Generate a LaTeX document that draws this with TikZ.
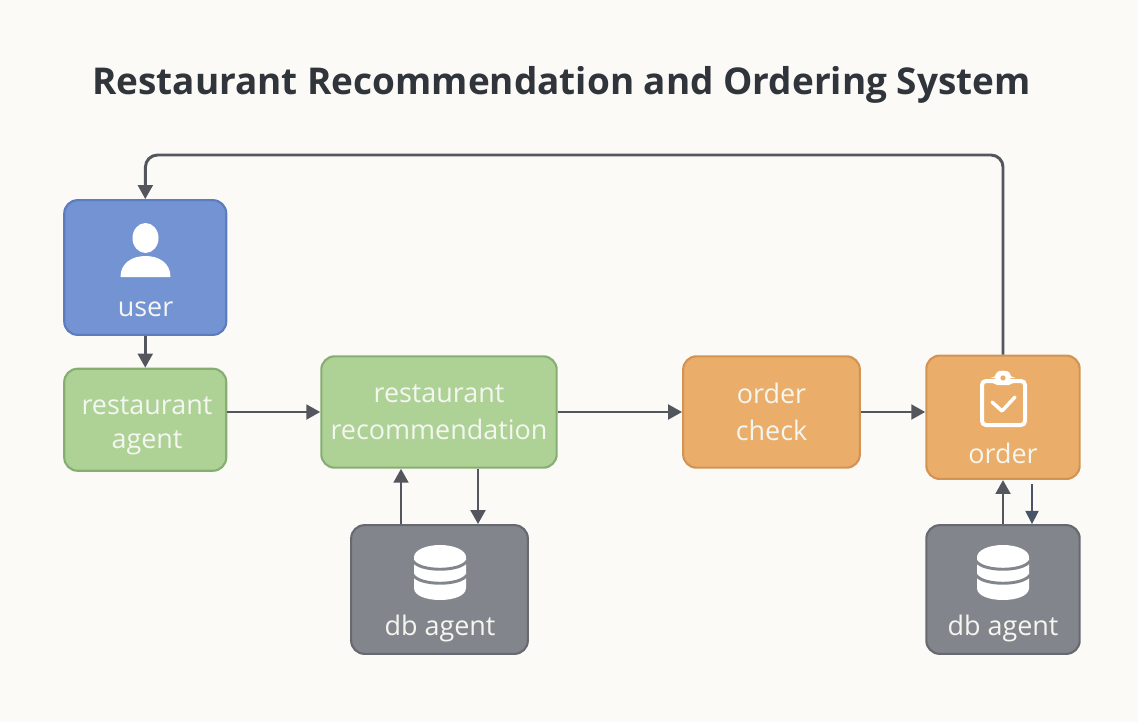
\documentclass[tikz,border=0pt]{standalone}
\usepackage{fontspec}
\setmainfont{Open Sans}
\usetikzlibrary{arrows.meta}
\definecolor{bgc}{HTML}{FCFAF7}
\definecolor{bluef}{HTML}{7393D2}
\definecolor{blued}{HTML}{5B7CBF}
\definecolor{greenf}{HTML}{AED296}
\definecolor{greend}{HTML}{86AE73}
\definecolor{orangef}{HTML}{EBAD6A}
\definecolor{oranged}{HTML}{D39453}
\definecolor{greyf}{HTML}{82868C}
\definecolor{greyd}{HTML}{666A70}
\definecolor{arrowc}{HTML}{53575D}
\definecolor{thinc}{HTML}{475569}
\definecolor{titlec}{HTML}{30343B}
\definecolor{labelc}{HTML}{F4F6F0}
\tikzset{
  x=0.75pt,y=-0.75pt,
  box/.style={draw,line width=1.6pt,rounded corners=10pt,inner sep=0pt,align=center,text=labelc,font=\fontsize{20.2}{27.6}\selectfont},
  bluebox/.style={box,fill=bluef,draw=blued},
  greenbox/.style={box,fill=greenf,draw=greend},
  orangebox/.style={box,fill=orangef,draw=oranged},
  greybox/.style={box,fill=greyf,draw=greyd},
  lbl/.style={text=labelc,font=\fontsize{20.2}{25.5}\selectfont,inner sep=0pt,align=center},
  arr/.style={draw=arrowc,line width=2.2pt,-{Triangle[length=10.5pt,width=11pt]}},
  thinarr/.style={draw=thinc,line width=1pt,-{Triangle[length=10pt,width=10pt]}},
  icon/.style={fill=white,draw=none},
}
\begin{document}
\begin{tikzpicture}
\useasboundingbox[fill=bgc] (0,0) rectangle (1138,722);
\node[text=titlec,font=\bfseries\fontsize{27.7}{32}\selectfont,inner sep=0pt] (title) at (561.5,85) {Restaurant Recommendation and Ordering System};

\node[bluebox,minimum width=121.5pt,minimum height=101pt] (user) at (145.25,267.5) {};
\node[greenbox,minimum width=121.5pt,minimum height=76.5pt] (ragent) at (145.25,419.75) {};
\node[greenbox,minimum width=176.5pt,minimum height=83.5pt] (rrec) at (439,412) {restaurant\\recommendation};
\node[orangebox,minimum width=132.5pt,minimum height=83.5pt] (ocheck) at (771.5,412) {order\\check};
\node[orangebox,minimum width=115pt,minimum height=92.5pt] (order) at (1003,417.25) {};
\node[greybox,minimum width=132.5pt,minimum height=96.5pt] (db1) at (439.5,589.5) {};
\node[greybox,minimum width=115pt,minimum height=96.5pt] (db2) at (1003,589.5) {};

\node[lbl] (ragentl) at (147,426) {restaurant\\agent};
\node[lbl] (userl) at (145.5,309) {user};
\node[lbl] (orderl) at (1003,453) {order};
\node[lbl] (db1l) at (440,628) {db agent};
\node[lbl] (db2l) at (1003,628) {db agent};

% user icon
\fill[icon] (145.5,238) ellipse [x radius=13,y radius=15];
\fill[icon] (120.5,277) .. controls (120.5,263) and (132,256) .. (145.5,256) .. controls (159,256) and (170.5,263) .. (170.5,277) -- cycle;

% clipboard icon
\draw[white,line width=3pt,rounded corners=3pt] (982,381) rectangle (1025,425);
\fill[white,rounded corners=4pt] (992,385) -- (992,378) -- (996,378) .. controls (997,370) and (1009,370) .. (1010,378) -- (1014,378) -- (1014,385) -- cycle;
\fill[orangef] (1003,378) circle (2.6);
\draw[white,line width=2.6pt,line cap=round,line join=round] (992,402) -- (1002,411) -- (1015,397);

% database icons
\foreach \cx in {440,1003}{
  \begin{scope}[shift={(\cx,0)}]
    \fill[icon] (-26,558) -- (-26,588) .. controls (-26,604) and (26,604) .. (26,588) -- (26,558) -- cycle;
    \fill[icon] (0,557) ellipse [x radius=26,y radius=12];
    \draw[greyf,line width=2.2pt] (-27,561) .. controls (-20,572) and (20,572) .. (27,561);
    \draw[greyf,line width=2.2pt] (-27,575) .. controls (-20,586) and (20,586) .. (27,575);
  \end{scope}
}

% connector guides
\coordinate (upa) at (401,0);
\coordinate (dna) at (478,0);
\coordinate (thx) at (1032,0);
\coordinate (topr) at (1003,155);
\coordinate (topl) at (145.5,155);
\coordinate (thtop) at (1032,484);

\draw[arr,rounded corners=9pt] (order.north) -- (topr) -- (topl) -- (user.north);
\draw[arr] (user.south) -- (ragent.north);
\draw[arr] (ragent.east |- rrec.west) -- (rrec.west);
\draw[arr] (rrec.east) -- (ocheck.west);
\draw[arr] (ocheck.east) -- (order.west |- ocheck.east);
\draw[arr] (upa |- db1.north) -- (upa |- rrec.south);
\draw[arr] (dna |- rrec.south) -- (dna |- db1.north);
\draw[arr] (db2.north) -- (order.south);
\draw[thinarr] (thtop) -- (thx |- db2.north);
\end{tikzpicture}
\end{document}
